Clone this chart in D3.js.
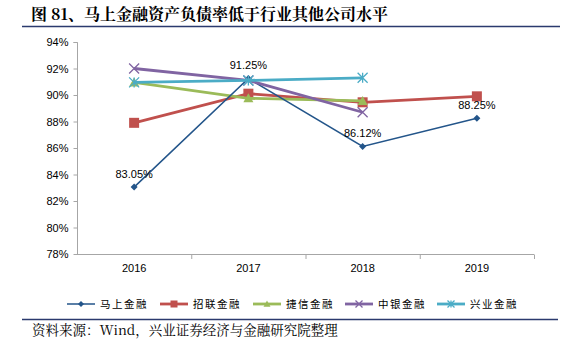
<!DOCTYPE html>
<html><head><meta charset="utf-8">
<script src="https://cdn.jsdelivr.net/npm/d3@7/dist/d3.min.js"></script>
<style>body{margin:0;background:#fff}svg{display:block}</style>
</head><body><svg id="c" width="572" height="350"></svg>
<script>
const categories = ["2016","2017","2018","2019"];
const seriesNames = ["马上金融","招联金融","捷信金融","中银金融","兴业金融"];
const mashang = [83.05, 91.25, 86.12, 88.25];
const zhaolian = [87.9, 90.1, 89.45, 89.9];
const jiexin = [90.95, 89.75, 89.55, null];
const zhongyin = [92.0, 91.1, 88.7, null];
const xingye = [90.95, 91.1, 91.3, null];
const yTicks = [78,80,82,84,86,88,90,92,94];
const labelled = [83.05, 91.25, 86.12, 88.25];

const colors = ["#23558A","#C0504D","#9BBB59","#8064A2","#4BACC6"];
const markers = ["diamond","square","triangle","x","asterisk"];
const widths = [1.5,2.8,2.8,2.8,2.8];
const allData = [mashang, zhaolian, jiexin, zhongyin, xingye];

const svg = d3.select("#c");
const font = "'Liberation Sans', Arial, sans-serif";
const cjk = "'Noto Sans CJK SC', sans-serif";
const serif = "'Noto Serif CJK SC','Noto Sans CJK SC',serif";

// title
svg.append("text").attr("x",31).attr("y",20).attr("font-family",serif).attr("font-weight","bold")
  .attr("font-size",16).attr("fill","#000").text("图 81、马上金融资产负债率低于行业其他公司水平");
svg.append("line").attr("x1",22).attr("x2",560).attr("y1",26.5).attr("y2",26.5).attr("stroke","#2B3A6E").attr("stroke-width",1.5);
svg.append("line").attr("x1",22).attr("x2",558).attr("y1",319.5).attr("y2",319.5).attr("stroke","#2B3A6E").attr("stroke-width",1.5);
svg.append("text").attr("x",32).attr("y",335).attr("font-family",serif)
  .attr("font-size",13.5).attr("fill","#000").text("资料来源：Wind，兴业证券经济与金融研究院整理");

const x = d3.scaleBand().domain(categories).range([77,534]);
const y = d3.scaleLinear().domain([78,94]).range([254,42]);

const g = svg.append("g");
// y axis
const ya = g.append("g").attr("transform","translate(77.5,0)")
  .call(d3.axisLeft(y).tickValues(yTicks).tickSize(4).tickFormat(d=>d+"%"));
ya.select(".domain").attr("stroke","#A6A6A6").attr("d","M-4,42.5H0V254.5");
ya.selectAll(".tick line").attr("stroke","#A6A6A6");
ya.selectAll(".tick text").attr("font-family",font).attr("font-size",11).attr("fill","#000").attr("x",-9);

// x axis
const xa = g.append("g").attr("transform","translate(0,254.5)")
  .call(d3.axisBottom(x).tickSize(0));
xa.select(".domain").attr("stroke","#A6A6A6").attr("d","M77,0H534");
xa.selectAll(".tick text").attr("font-family",font).attr("font-size",11).attr("fill","#000").attr("dy","1.3em");
categories.forEach(c=>{
  g.append("line").attr("x1",x(c)+x.bandwidth()+0.5).attr("x2",x(c)+x.bandwidth()+0.5)
   .attr("y1",254.5).attr("y2",259).attr("stroke","#A6A6A6");
});

const cx = c => x(c)+x.bandwidth()/2;

function drawMarker(sel, type, color, size){
  const s=size;
  if(type==="diamond"){
    sel.append("path").attr("d",`M0,${-s}L${s},0L0,${s}L${-s},0Z`).attr("fill",color);
  } else if(type==="square"){
    sel.append("rect").attr("x",-s).attr("y",-s).attr("width",2*s).attr("height",2*s).attr("fill",color);
  } else if(type==="triangle"){
    sel.append("path").attr("d",`M0,${-s}L${s},${s*0.8}L${-s},${s*0.8}Z`).attr("fill",color);
  } else if(type==="x"){
    sel.append("path").attr("d",`M${-s},${-s}L${s},${s}M${-s},${s}L${s},${-s}`).attr("stroke",color).attr("stroke-width",1.3);
  } else if(type==="asterisk"){
    sel.append("path").attr("d",`M${-s},${-s}L${s},${s}M${-s},${s}L${s},${-s}M0,${-s}V${s}`).attr("stroke",color).attr("stroke-width",1.3);
  }
}
const msize=[3.5,5,5,5,5];

const line = d3.line().defined(d=>d.v!=null).x(d=>cx(d.c)).y(d=>y(d.v));
const order=[1,2,0,3,4];
order.forEach(i=>{
  const data = categories.map((c,j)=>({c, v: allData[i][j]}));
  g.append("path").datum(data).attr("d",line).attr("fill","none")
   .attr("stroke",colors[i]).attr("stroke-width",widths[i]);
  data.filter(d=>d.v!=null).forEach(d=>{
    const m = g.append("g").attr("transform",`translate(${cx(d.c)},${y(d.v)})`);
    drawMarker(m, markers[i], colors[i], msize[i]);
  });
});

// data labels
categories.forEach((c,j)=>{
  g.append("text").attr("x",cx(c)).attr("y",y(mashang[j])-9).attr("text-anchor","middle")
   .attr("font-family",font).attr("font-size",11).attr("fill","#000").text(labelled[j].toFixed(2)+"%");
});

// legend
const legX=[67,160,253,345,437];
seriesNames.forEach((n,i)=>{
  const lg = svg.append("g").attr("transform",`translate(${legX[i]},304)`);
  lg.append("line").attr("x1",0).attr("x2",28).attr("stroke",colors[i]).attr("stroke-width",widths[i]);
  const m=lg.append("g").attr("transform","translate(14,0)");
  drawMarker(m, markers[i], colors[i], i===0?3:3.5);
  lg.append("text").attr("x",33).attr("y",4).attr("font-family",cjk).attr("font-size",10.5)
    .attr("fill","#000").attr("letter-spacing",1.5).text(n);
});
</script></body></html>
